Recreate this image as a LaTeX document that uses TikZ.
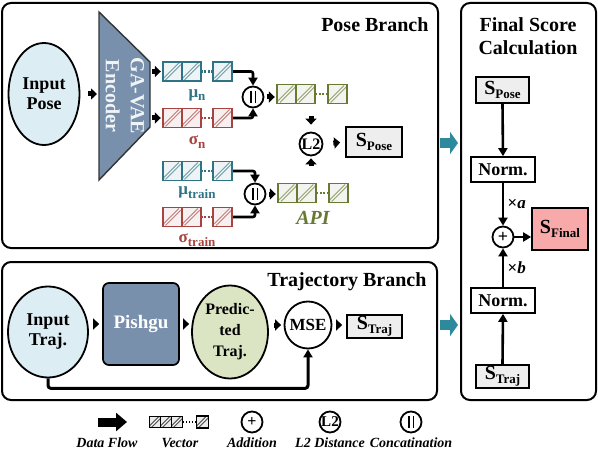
\documentclass[tikz,border=0pt]{standalone}
\usepackage{fontspec}
\setmainfont{Liberation Serif}
\usetikzlibrary{shapes,arrows.meta,calc}

\definecolor{mucol}{HTML}{2F7484}
\definecolor{sigcol}{HTML}{A8443F}
\definecolor{apicol}{HTML}{667A33}
\definecolor{enccol}{HTML}{7890AC}
\definecolor{posecol}{HTML}{DCEEF4}
\definecolor{predcol}{HTML}{DCE5C3}
\definecolor{scol}{HTML}{EEEEEE}
\definecolor{finalcol}{HTML}{F8AAAA}
\definecolor{flowcol}{HTML}{2D8A9C}

\tikzset{cell/.style={draw=#1,line width=1.8pt,fill=#1!8,minimum size=19pt,inner sep=0pt,
  path picture={
   \draw[#1!65,line width=3.6pt] ($(path picture bounding box.south west)!.1!(path picture bounding box.north east)$) -- ($(path picture bounding box.south west)!.9!(path picture bounding box.north east)$);
   \draw[white,line width=1pt] ($(path picture bounding box.south west)!.1!(path picture bounding box.north east)$) -- ($(path picture bounding box.south west)!.9!(path picture bounding box.north east)$);}}}

% vector of cells: name, centre, colour
\newcommand{\vecrow}[3]{%
  \node[inner sep=0pt,minimum width=71pt,minimum height=19pt] (#1) at (#2) {};
  \node[cell=#3,anchor=west] at (#1.west) {};
  \node[cell=#3,anchor=west] at ($(#1.west)+(19,0)$) {};
  \node[cell=#3,anchor=east] at (#1.east) {};
  \draw[#3,line width=2.2pt,dash pattern=on 2pt off 1.5pt] ($(#1.west)+(39,0)$) -- ($(#1.east)+(-19.5,0)$);
}
\newcommand{\lowtxt}[1]{\raisebox{-.22em}{\fontsize{13}{13}\selectfont #1}}
\newcommand{\score}[1]{{\fontsize{20}{20}\selectfont S}\lowtxt{#1}}

\begin{document}
\begin{tikzpicture}[x=1pt,y=-1pt]
\tikzstyle{every node}=[font=\bfseries\fontsize{18}{20}\selectfont,align=center]
\tikzstyle{panel}=[draw,line width=2pt,rounded corners=9pt,fill=white]
\tikzstyle{title}=[font=\bfseries\fontsize{20}{23}\selectfont]
\tikzstyle{blob}=[ellipse,draw,line width=1.8pt,inner sep=0pt]
\tikzstyle{op}=[circle,draw,line width=1.8pt,inner sep=0pt,minimum size=21pt,fill=white]
\tikzstyle{catop}=[op,path picture={
   \draw[line width=1.8pt] ($(path picture bounding box.center)+(-2.4,-6)$) -- ++(0,12);
   \draw[line width=1.8pt] ($(path picture bounding box.center)+(2.4,-6)$) -- ++(0,12);}]
\tikzstyle{sbox}=[draw,line width=1.7pt,fill=scol,inner sep=0pt]
\tikzstyle{normbox}=[draw,line width=1.7pt,fill=white,minimum width=64pt,minimum height=25pt,inner sep=0pt]
\tikzstyle{flow}=[line width=5pt,-{Triangle[length=6pt,width=11pt]}]
\tikzstyle{conn}=[line width=2.6pt,-{Triangle[length=8pt,width=9pt]}]
\tikzstyle{bigflow}=[flowcol,line width=10pt,-{Triangle[length=8pt,width=22pt]}]
\tikzstyle{leglab}=[font=\bfseries\itshape\fontsize{14}{14}\selectfont]
\tikzstyle{veclab}=[font=\bfseries\fontsize{17}{17}\selectfont]

\useasboundingbox (0,0) rectangle (598,460);

% panels
\draw[panel] (2,3) rectangle (438,248);
\draw[panel] (2,262) rectangle (437,400);
\draw[panel] (461,3) rectangle (596,400);
\node[title,anchor=east] (posetitle) at (432,25) {Pose Branch};
\node[title,anchor=east] (trajtitle) at (430,282) {Trajectory Branch};
\node[title] (fstitle) at (528,36) {Final Score\\Calculation};

% pose branch
\node[blob,fill=posecol,minimum width=71pt,minimum height=102pt] (inpose) at (44,94) {Input\\Pose};
\draw[fill=enccol,draw=black!80,line width=1.4pt] (99,12) -- (150,62) -- (150,127) -- (99,180) -- cycle;
\node[rotate=-90,text=white!90!enccol,font=\bfseries\fontsize{20}{25}\selectfont] (enc) at (125,96) {GA-VAE\\Encoder};
\coordinate (encin) at (99,94);
\coordinate (encmu) at (150,71.5);
\coordinate (encsig) at (150,118);

\vecrow{mun}{197.5,71.5}{mucol}
\vecrow{sign}{197.5,118}{sigcol}
\vecrow{mutr}{197.5,171}{mucol}
\vecrow{sigtr}{197.5,217}{sigcol}
\node[veclab,text=mucol] (munlab) at (197,95) {μ\lowtxt{n}};
\node[veclab,text=sigcol] (signlab) at (197,142) {σ\lowtxt{n}};
\node[veclab,text=mucol] (mutrlab) at (197,193) {μ\lowtxt{train}};
\node[veclab,text=sigcol] (sigtrlab) at (197,240) {σ\lowtxt{train}};

\node[catop] (catn) at (253,97) {};
\node[catop] (catt) at (255,194) {};
\vecrow{apin}{312,94}{apicol}
\vecrow{apitr}{313,193}{apicol}
\node[text=apicol,font=\bfseries\itshape\fontsize{20}{20}\selectfont] (apilab) at (313,218) {API};
\node[op,minimum size=23pt,font=\bfseries\fontsize{16}{16}\selectfont] (l2) at (311,144) {L2};
\node[sbox,minimum width=56pt,minimum height=30pt] (spose) at (374,142) {\score{Pose}};

\draw[flow,shorten <=8pt,shorten >=2pt] (inpose.east) -- (encin);
\draw[flow,shorten <=2pt,shorten >=1pt] (encmu) -- (mun.west);
\draw[flow,shorten <=2pt,shorten >=1pt] (encsig) -- (sign.west);
\draw[conn,rounded corners=2pt] (mun.east) -| (catn.north);
\draw[conn,rounded corners=2pt] (sign.east) -| (catn.south);
\draw[conn,rounded corners=2pt] (mutr.east) -| (catt.north);
\draw[conn,rounded corners=2pt] (sigtr.east) -| (catt.south);
\draw[flow,shorten <=3pt,shorten >=1.5pt] (catn.east) -- (catn.east -| apin.west);
\draw[flow,shorten <=3pt,shorten >=1.5pt] (catt.east) -- (catt.east -| apitr.west);
\draw[flow,shorten <=12pt,shorten >=7pt] (apin.south -| l2.north) -- (l2.north);
\draw[flow,shorten <=17pt,shorten >=2pt] (apitr.north -| l2.south) -- (l2.south);
\draw[flow,shorten <=10pt,shorten >=5pt] (l2.east) -- (spose.west);

% trajectory branch
\node[blob,fill=posecol,minimum width=80pt,minimum height=91pt] (intraj) at (48,332) {Input\\Traj.};
\node[draw,line width=1.7pt,rounded corners=6pt,fill=enccol,text=white,minimum width=76pt,minimum height=82pt,font=\bfseries\fontsize{19}{20}\selectfont] (pishgu) at (141,324) {Pishgu};
\node[blob,fill=predcol,minimum width=76pt,minimum height=93pt,font=\bfseries\fontsize{16}{21}\selectfont] (pred) at (230,332) {Predic-\\ted\\Traj.};
\node[op,minimum size=47pt,font=\bfseries\fontsize{17}{17}\selectfont] (mse) at (308,325) {MSE};
\node[sbox,minimum width=55pt,minimum height=23pt] (straj) at (374.5,326.5) {\score{Traj}};

\draw[flow,shorten <=4pt,shorten >=3pt] (intraj.east |- pishgu.west) -- (pishgu.west);
\draw[flow,shorten <=3pt,shorten >=2pt] (pishgu.east) -- (pishgu.east -| pred.west);
\draw[flow,shorten <=5pt,shorten >=2.5pt] (pred.east |- mse.west) -- (mse.west);
\draw[flow,shorten <=3.5pt,shorten >=4pt] (mse.east) -- (mse.east -| straj.west);
\draw[conn,line width=3pt,rounded corners=3pt] (intraj.south) -- ++(0,10) -| (mse.south);

% branch outputs
\coordinate (poseout) at (440,143);
\coordinate (posein) at (458,143);
\coordinate (trajout) at (440,325);
\coordinate (trajin) at (458,325);
\draw[bigflow] (poseout) -- (posein);
\draw[bigflow] (trajout) -- (trajin);

% final score calculation
\node[sbox,minimum width=53pt,minimum height=26pt] (fpose) at (502.5,90) {\score{Pose}};
\node[normbox] (norma) at (503,169.5) {Norm.};
\node[op,font=\bfseries\fontsize{18}{18}\selectfont] (plus) at (503,237) {+};
\node[sbox,fill=finalcol,minimum width=56pt,minimum height=42pt] (sfinal) at (560,229) {\score{Final}};
\node[normbox] (normb) at (503,300.5) {Norm.};
\node[sbox,minimum width=53pt,minimum height=23pt] (ftraj) at (502.5,376.5) {\score{Traj}};

\draw[conn] (fpose.south) -- (norma.north);
\draw[conn] (norma.south) -- node[right,font=\bfseries\fontsize{17}{17}\selectfont] {×\textit{a}} (plus.north);
\draw[conn] (normb.north) -- node[right,font=\bfseries\fontsize{17}{17}\selectfont] {×\textit{b}} (plus.south);
\draw[conn] (ftraj.north) -- (normb.south);
\draw[conn] (plus.east) -- (plus.east -| sfinal.west);

% legend
\coordinate (legfrom) at (98,422);
\coordinate (legto) at (127,422);
\draw[line width=9pt,-{Triangle[length=11pt,width=18pt]}] (legfrom) -- (legto);
\node[inner sep=0pt,minimum width=60pt,minimum height=12pt] (legvec) at (179,422) {};
\foreach \i in {0,1,2}
  \node[cell=black,minimum size=11pt,line width=1.5pt,anchor=west] at ($(legvec.west)+(\i*11,0)$) {};
\node[cell=black,minimum size=12pt,line width=1.5pt,anchor=east] at (legvec.east) {};
\draw[line width=2pt,dash pattern=on 1.6pt off 1.4pt] ($(legvec.west)+(34,0)$) -- ($(legvec.east)+(-12.5,0)$);
\node[op,font=\bfseries\fontsize{16}{16}\selectfont] (legadd) at (252,422) {+};
\node[op,font=\bfseries\fontsize{15}{15}\selectfont] (legl2) at (330,422) {L2};
\node[catop] (legcat) at (411,422) {};
\node[leglab] at (107,443) {Data Flow};
\node[leglab] at (180,443) {Vector};
\node[leglab] at (252,443) {Addition};
\node[leglab] at (330,443) {L2 Distance};
\node[leglab] at (411,443) {Concatination};
\end{tikzpicture}
\end{document}
